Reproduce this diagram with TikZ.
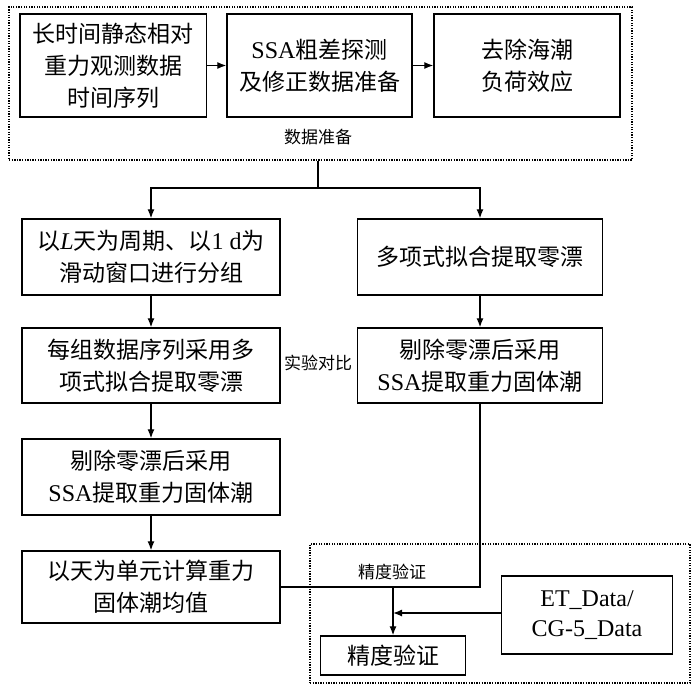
\documentclass[tikz,border=0pt]{standalone}
\usepackage{fontspec}
\setmainfont{Liberation Serif}
\newfontfamily\cjk{Noto Sans CJK SC}
\newfontfamily\lat{Liberation Serif}
\usetikzlibrary{arrows.meta}
\begin{document}
\begin{tikzpicture}[x=1pt,y=-1pt,
  box/.style={draw, line width=1.4pt, inner sep=0pt, align=center,
    font=\cjk\fontsize{23}{32}\selectfont},
  dotbox/.style={draw, line width=1.3pt, dash pattern=on 1.3pt off 1.3pt, inner sep=0pt},
  lbl/.style={font=\cjk\fontsize{17}{20}\selectfont, inner sep=0pt},
  conn/.style={line width=1.3pt},
  arr/.style={conn, -{Latex[length=9pt,width=7pt]}}]
\fill[white] (0,0) rectangle (700,690);
\useasboundingbox (0,0) rectangle (700,690);

% data preparation group
\node[dotbox, minimum width=623pt, minimum height=153pt] (prep) at (320.5,83.5) {};
\node[box, minimum width=186.5pt, minimum height=103pt] (b1) at (113.25,65.5)
  {长时间静态相对\\重力观测数据\\时间序列};
\node[box, minimum width=185pt, minimum height=103pt] (b2) at (319.5,65.5)
  {{\lat\fontsize{24}{32}\selectfont SSA}粗差探测\\及修正数据准备};
\node[box, minimum width=186pt, minimum height=103pt] (b3) at (527,65.5)
  {去除海潮\\负荷效应};
\node[lbl] (lprep) at (318,137) {数据准备};

% left column
\node[box, minimum width=258pt, minimum height=76pt] (A) at (151,257)
  {以{\lat\itshape\fontsize{24}{32}\selectfont L}天为周期、以{\lat\fontsize{24}{32}\selectfont 1 d}为\\滑动窗口进行分组};
\node[box, minimum width=258pt, minimum height=75pt] (C) at (151,365.5)
  {每组数据序列采用多\\项式拟合提取零漂};
\node[box, minimum width=258pt, minimum height=76pt] (E) at (151,477)
  {剔除零漂后采用\\{\lat\fontsize{24}{32}\selectfont SSA}提取重力固体潮};
\node[box, minimum width=258pt, minimum height=72pt] (F) at (151,587)
  {以天为单元计算重力\\固体潮均值};

% right column
\node[box, minimum width=245pt, minimum height=76pt] (B) at (480,257)
  {多项式拟合提取零漂};
\node[box, minimum width=245pt, minimum height=75pt] (D) at (480,365.5)
  {剔除零漂后采用\\{\lat\fontsize{24}{32}\selectfont SSA}提取重力固体潮};
\node[lbl] (lcmp) at (318,363) {实验对比};

% accuracy group
\node[dotbox, minimum width=380pt, minimum height=139pt] (acc) at (500,613.5) {};
\node[lbl] (lacc) at (392,572) {精度验证};
\node[box, minimum width=145pt, minimum height=39pt] (G) at (393,655.5) {精度验证};
\node[box, minimum width=170.5pt, minimum height=78pt,
  font=\lat\fontsize{24}{30}\selectfont] (H) at (587,615)
  {ET\_Data/\\CG-5\_Data};

% connectors
\draw[arr] (b1) -- (b2);
\draw[arr] (b2) -- (b3);
\coordinate (split) at (318,188);
\draw[conn] (prep.south -| split) -- (split);
\draw[arr] (split) -| (A.north);
\draw[arr] (split) -| (B.north);
\draw[arr] (A) -- (C);
\draw[arr] (C) -- (E);
\draw[arr] (E) -- (F);
\draw[arr] (B) -- (D);
\coordinate (join) at (G.north |- F.east);
\draw[conn] (F.east) -- (F.east -| D.south) -- (D.south);
\draw[arr] (join) -- (G.north);
\draw[arr] (H.west |- 0,613) -- (G.north |- 0,613);
\end{tikzpicture}
\end{document}
